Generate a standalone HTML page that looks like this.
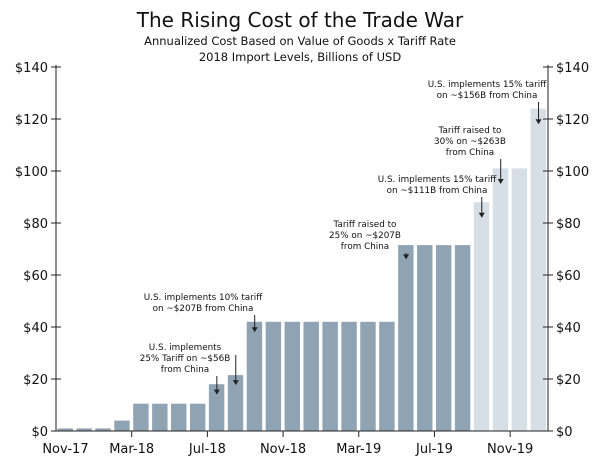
<!DOCTYPE html>
<html><head><meta charset="utf-8"><style>
body{margin:0;background:#fff;}
svg{display:block;font-family:"DejaVu Sans","Liberation Sans",sans-serif;}
</style></head><body>
<svg id="c" width="600" height="461">
<text x="300" y="27" text-anchor="middle" font-size="20" fill="#111">The Rising Cost of the Trade War</text>
<text x="300" y="45" text-anchor="middle" font-size="11.5" fill="#111">Annualized Cost Based on Value of Goods x Tariff Rate</text>
<text x="300" y="61" text-anchor="middle" font-size="11.5" fill="#111">2018 Import Levels, Billions of USD</text>
<g id="bars"></g><g id="axes"></g><g id="ann"></g>
</svg>
<script>
const months=["Nov-17","Dec-17","Jan-18","Feb-18","Mar-18","Apr-18","May-18","Jun-18","Jul-18","Aug-18","Sep-18","Oct-18","Nov-18","Dec-18","Jan-19","Feb-19","Mar-19","Apr-19","May-19","Jun-19","Jul-19","Aug-19","Sep-19","Oct-19","Nov-19","Dec-19"];
const values=[1,1,1,4,10.5,10.5,10.5,10.5,18,21.5,42,42,42,42,42,42,42,42,71.5,71.5,71.5,71.5,88,101,101,124];
const projected=[0,0,0,0,0,0,0,0,0,0,0,0,0,0,0,0,0,0,0,0,0,0,1,1,1,1];
const yTicks=[0,20,40,60,80,100,120,140];
const xLabelIdx=[0,4,8,12,16,20,24];
const notes=[
 {i:8,lines:["U.S. implements","25% Tariff on ~$56B","from China"],tx:185,ty:350,at:14},
 {i:9,lines:[],tx:0,ty:0,at:0,from:355},
 {i:10,lines:["U.S. implements 10% tariff","on ~$207B from China"],tx:203,ty:300,at:38},
 {i:18,lines:["Tariff raised to","25% on ~$207B","from China"],tx:365,ty:227,at:66},
 {i:22,lines:["U.S. implements 15% tariff","on ~$111B from China"],tx:437,ty:182,at:82},
 {i:23,lines:["Tariff raised to","30% on ~$263B","from China"],tx:470,ty:133,at:95},
 {i:25,lines:["U.S. implements 15% tariff","on ~$156B from China"],tx:487,ty:87,at:118}
];
const L=56,R=548,T=67,B=431,ymax=140;
const pitch=(R-L)/months.length;
const X=i=>L+i*pitch, Y=v=>B-(v/ymax)*(B-T);
const NS="http://www.w3.org/2000/svg";
function mk(tag,attrs,parent){const e=document.createElementNS(NS,tag);for(const k in attrs)e.setAttribute(k,attrs[k]);parent.appendChild(e);return e;}
const gb=document.getElementById('bars'),ga=document.getElementById('axes'),gn=document.getElementById('ann');
values.forEach((v,i)=>{
 const r=mk('rect',{x:X(i)+1.5,y:Y(v),width:pitch-3.5,height:B-Y(v),fill:projected[i]?'#d6dee6':'#8fa3b2'},gb);
 
 
});
mk('line',{x1:L,y1:T-2,x2:L,y2:B,stroke:'#222','stroke-width':1},ga);
mk('line',{x1:R,y1:T-2,x2:R,y2:B,stroke:'#222','stroke-width':1},ga);
mk('line',{x1:L,y1:B,x2:R,y2:B,stroke:'#222','stroke-width':1},ga);
yTicks.forEach(t=>{
 const y=Y(t);
 mk('line',{x1:L-5,y1:y,x2:L+5,y2:y,stroke:'#222'},ga);
 mk('line',{x1:R-5,y1:y,x2:R+5,y2:y,stroke:'#222'},ga);
 const a=mk('text',{x:L-8,y:y+5,'text-anchor':'end','font-size':13,fill:'#111'},ga);a.textContent='$'+t;
 
 
 const b=mk('text',{x:R+8,y:y+5,'font-size':13,fill:'#111'},ga);b.textContent='$'+t;
 
 
});
xLabelIdx.forEach(i=>{
 const x=i===0?X(0)+pitch/2:X(i);
 if(i>0)mk('line',{x1:x,y1:B,x2:x,y2:B+6,stroke:'#222'},ga);
 const t=mk('text',{x:x,y:B+22,'text-anchor':'middle','font-size':13,fill:'#111'},ga);t.textContent=months[i];
 
 
});
notes.forEach(n=>{
 const cx=X(n.i)+pitch/2;
 n.lines.forEach((s,k)=>{
  const t=mk('text',{x:n.tx,y:n.ty+k*11,'text-anchor':'middle','font-size':8.8,fill:'#111'},gn);t.textContent=s;
  
  
 });
 const top=n.from?n.from:n.ty+(n.lines.length-1)*11+4;
 const end=n.from?Y(values[n.i])+10:Y(n.at);
 mk('line',{x1:cx,y1:top,x2:cx,y2:end-4,stroke:'#222'},gn);
 mk('path',{d:`M${cx-3},${end-5}L${cx+3},${end-5}L${cx},${end}Z`,fill:'#222'},gn);
});
</script>
</body></html>
